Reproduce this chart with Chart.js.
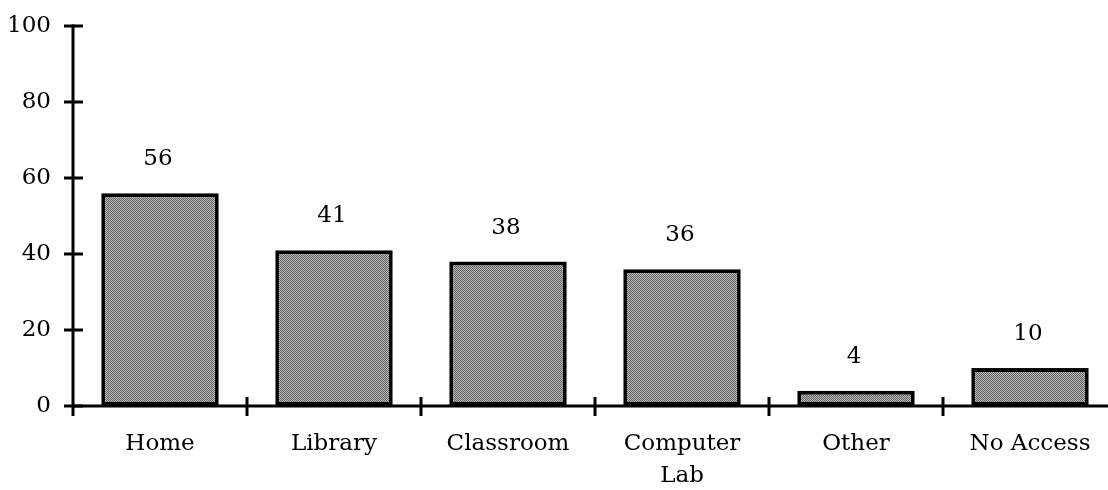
<!DOCTYPE html>
<html>
<head>
<meta charset="utf-8">
<script src="https://cdn.jsdelivr.net/npm/chart.js@4.4.1/dist/chart.umd.min.js"></script>
<style>
  html, body { margin:0; padding:0; background:#fff; overflow:hidden; }
  #wrap { width:1108px; height:490px; overflow:hidden; position:relative; }
  #box { width:1120px; height:490px; position:absolute; left:0; top:0; }
</style>
</head>
<body>
<div id="wrap"><div id="box"><canvas id="c"></canvas></div></div>
<script>
// ---- data ----
const categories = ['Home', 'Library', 'Classroom', ['Computer', 'Lab'], 'Other', 'No Access'];
const values = [56, 41, 38, 36, 4, 10];
const yTicks = [0, 20, 40, 60, 80, 100];

const FONT = '"DejaVu Serif", "Liberation Serif", serif';

// dithered grey like the scanned bars
function greyPattern() {
  const p = document.createElement('canvas');
  p.width = 2; p.height = 2;
  const g = p.getContext('2d');
  g.fillStyle = '#b8b8b8'; g.fillRect(0,0,2,2);
  g.fillStyle = '#626262'; g.fillRect(0,0,1,1); g.fillRect(1,1,1,1);
  return g.createPattern(p, 'repeat');
}

// axes, tick marks and value labels
const axesPlugin = {
  id: 'axesPlugin',
  afterDatasetsDraw(chart) {
    const ctx = chart.ctx;
    const x = chart.scales.x, y = chart.scales.y;
    const area = chart.chartArea;
    const y0 = y.getPixelForValue(0);
    ctx.save();
    ctx.strokeStyle = '#000';
    ctx.lineWidth = 3;
    ctx.lineCap = 'butt';
    // y axis
    ctx.beginPath();
    ctx.moveTo(area.left, y.getPixelForValue(100) - 1.5);
    ctx.lineTo(area.left, y0 + 10);
    ctx.stroke();
    // x axis
    ctx.beginPath();
    ctx.moveTo(area.left, y0);
    ctx.lineTo(chart.width, y0);
    ctx.stroke();
    // y tick marks
    yTicks.forEach(v => {
      const py = y.getPixelForValue(v);
      ctx.beginPath();
      ctx.moveTo(area.left - 9, py);
      ctx.lineTo(area.left + 10, py);
      ctx.stroke();
    });
    // x tick marks between categories
    for (let i = 0; i < categories.length - 1; i++) {
      const px = (x.getPixelForValue(i) + x.getPixelForValue(i + 1)) / 2;
      ctx.beginPath();
      ctx.moveTo(px, y0 - 9);
      ctx.lineTo(px, y0 + 10);
      ctx.stroke();
    }
    // value labels
    ctx.fillStyle = '#000';
    ctx.font = '23px ' + FONT;
    ctx.textAlign = 'center';
    ctx.textBaseline = 'middle';
    const meta = chart.getDatasetMeta(0);
    meta.data.forEach((bar, i) => {
      ctx.fillText(String(values[i]), x.getPixelForValue(i) - 2, bar.y - 34);
    });
    ctx.restore();
  }
};

new Chart(document.getElementById('c'), {
  type: 'bar',
  data: {
    labels: categories,
    datasets: [{
      data: values,
      backgroundColor: greyPattern(),
      borderColor: '#000',
      borderWidth: 4,
      borderSkipped: false,
      barPercentage: 0.675,
      categoryPercentage: 1
    }]
  },
  options: {
    responsive: true,
    maintainAspectRatio: false,
    animation: false,
    layout: { padding: { top: 26, right: 3, left: 0, bottom: 0 } },
    plugins: { legend: { display: false }, tooltip: { enabled: false } },
    scales: {
      x: {
        grid: { display: false, drawTicks: false },
        border: { display: false },
        ticks: {
          color: '#000',
          font: { family: FONT, size: 23, lineHeight: 1.4 },
          padding: 22,
          maxRotation: 0,
          autoSkip: false
        },
        afterFit(scale) { scale.height = 84; }
      },
      y: {
        min: 0, max: 100,
        grid: { display: false, drawTicks: false },
        border: { display: false },
        ticks: {
          stepSize: 20,
          color: '#000',
          font: { family: FONT, size: 23 },
          padding: 22
        },
        afterFit(scale) {
          scale.width = 73;
          scale.paddingTop = 0;
          scale.paddingBottom = 0;
        }
      }
    }
  },
  plugins: [axesPlugin]
});
</script>
</body>
</html>
